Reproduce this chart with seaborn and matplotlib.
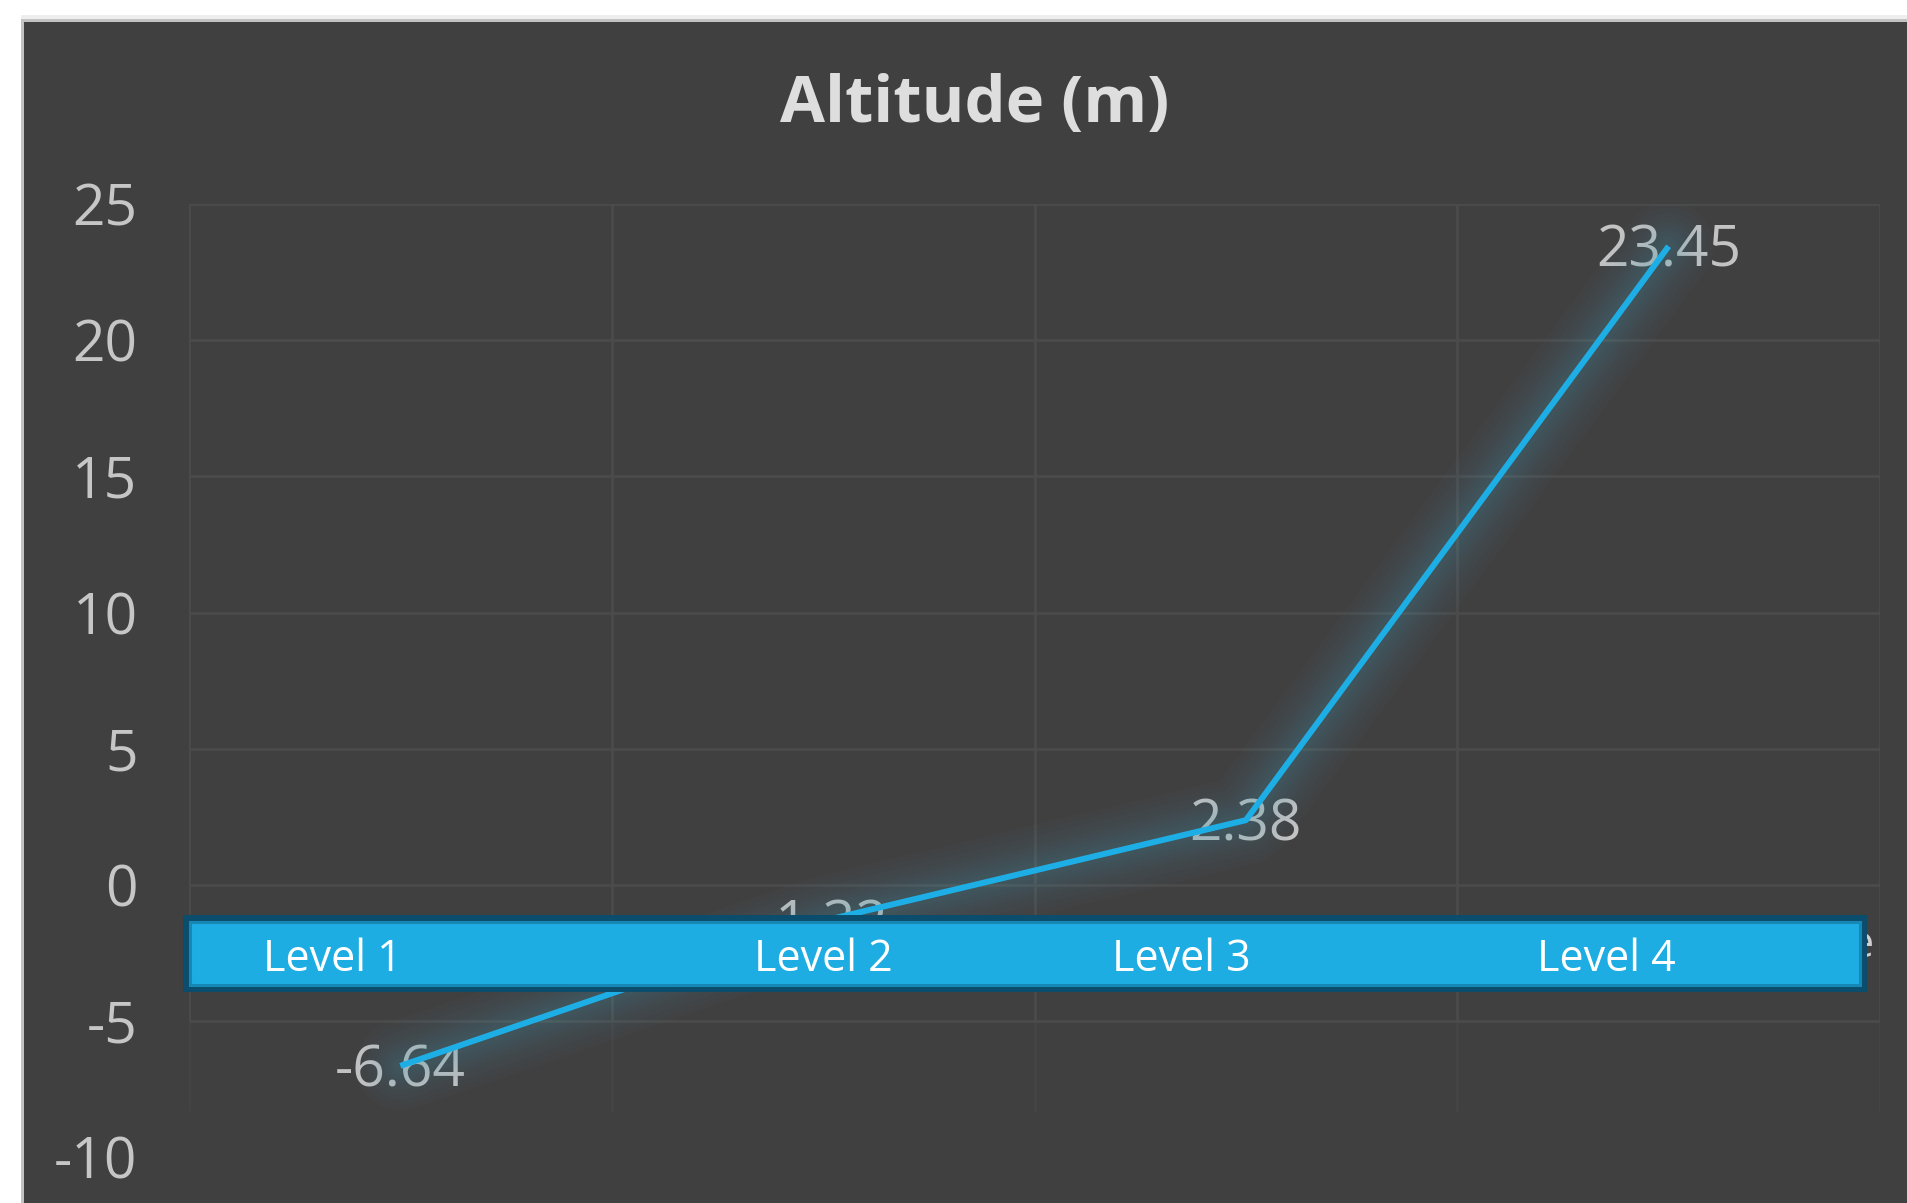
import matplotlib
matplotlib.use("Agg")
import matplotlib.pyplot as plt
import matplotlib.patheffects as pe
from matplotlib.patches import Rectangle
import seaborn as sns
import pandas as pd

# ---- data -------------------------------------------------------------
levels = ["Level 1", "Level 2", "Level 3", "Level 4"]
altitude = [-6.64, -1.32, 2.38, 23.45]
y_ticks = [-10, -5, 0, 5, 10, 15, 20, 25]
title = "Altitude (m)"

# ---- style ------------------------------------------------------------
W, H, DPI = 1908, 1203, 100
BG = "#404040"
GRID = "#4b4b4b"
LINE = "#1eaee6"
BANNER = "#1eade3"
FONT = ["Open Sans", "DejaVu Sans"]

sns.set_theme(style="dark")
plt.rcParams["font.family"] = FONT

df = pd.DataFrame({"level": levels, "altitude": altitude})

fig = plt.figure(figsize=(W / DPI, H / DPI), dpi=DPI, facecolor="white")

# chart panel with its light edge
fig.add_artist(Rectangle((21 / W, 0), 1, 1 - 15 / H, transform=fig.transFigure,
                         facecolor="#eeeeee", edgecolor="none", zorder=0))
fig.add_artist(Rectangle((21 / W, 0), 1, 1 - 19 / H, transform=fig.transFigure,
                         facecolor="#c2c2c2", edgecolor="none", zorder=0))
fig.add_artist(Rectangle((24 / W, 0), 1, 1 - 22 / H, transform=fig.transFigure,
                         facecolor=BG, edgecolor="none", zorder=0))

ax = fig.add_axes([189 / W, 0, (1880 - 189) / W, (1203 - 204) / H])
ax.set_facecolor("none")
for s in ax.spines.values():
    s.set_visible(False)

n = len(levels)
ax.set_xlim(-0.5, n - 0.5)
ax.set_ylim(-318 / 27.24, 25)

# grid: horizontal lines down to -5, category dividers fading below
h_lines = [t for t in y_ticks if t >= -5]
ax.hlines(h_lines, -0.5, n - 0.5, color=GRID, lw=2.0, zorder=1)
bounds = [i - 0.5 for i in range(n + 1)]
ax.vlines(bounds, -5, 25, color=GRID, lw=2.0, zorder=1)
ax.vlines(bounds, -8.3, -5, color=GRID, lw=2.0, alpha=0.45, zorder=1)

# glowing line: soft, wide halo in a muted teal
glow = [pe.Stroke(linewidth=w, foreground="#4a9cb4", alpha=0.03,
                  capstyle="round", joinstyle="round")
        for w in [64, 56, 48, 41, 35, 29, 24, 19, 15, 11]] + [pe.Normal()]
sns.lineplot(data=df, x="level", y="altitude", sort=False, ax=ax,
             color=LINE, lw=4.3, zorder=4, path_effects=glow)
ax.lines[-1].set_solid_capstyle("butt")

# value labels centred on each point
for i, v in enumerate(altitude):
    ax.annotate(f"{v:.2f}", xy=(i, v), xytext=(0, -14.5), textcoords="offset points",
                ha="center", va="baseline", fontsize=41, color="#c3c3c3",
                family=FONT, zorder=3)

# axes ticks
ax.set_yticks(y_ticks)
ax.set_yticklabels([str(t) for t in y_ticks])
ax.tick_params(axis="y", length=0, pad=37, labelsize=41, labelcolor="#c6c6c6")
ax.set_xticks([])
ax.set_xlabel("")
ax.set_ylabel("")
ax.grid(False)

# category banner
ax.text(0.9894, (1203 - 957) / 999, "e", transform=ax.transAxes, ha="center",
        va="baseline", fontsize=31, color="#d0d0d0", zorder=5)
x0 = (186 - 189) / 1691
y0 = (1203 - 988) / 999
bw = (1863 - 186) / 1691
bh = 70 / 999
ax.add_patch(Rectangle((x0, y0), bw, bh, transform=ax.transAxes, facecolor=BANNER,
                       edgecolor="#0b4d6c", lw=5, zorder=6, clip_on=False))
ax.add_patch(Rectangle((x0 + 3.5 / 1691, y0 + 3.5 / 999), bw - 7 / 1691, bh - 7 / 999,
                       transform=ax.transAxes, facecolor="none",
                       edgecolor="#1788b6", lw=2.2, zorder=6, clip_on=False))
banner_x = [(332 - 189) / 1691, (823 - 189) / 1691, (1181 - 189) / 1691, (1606 - 189) / 1691]
for bx, lab in zip(banner_x, levels):
    ax.text(bx, (1203 - 971) / 999, lab, transform=ax.transAxes, ha="center",
            va="baseline", fontsize=31, color="white", zorder=7)

fig.text(975 / W, 1 - 122 / H, title, ha="center", va="baseline", fontsize=47,
         fontweight="bold", color="#dedede", family=FONT)

fig.savefig("out.png", dpi=DPI, facecolor="white")
